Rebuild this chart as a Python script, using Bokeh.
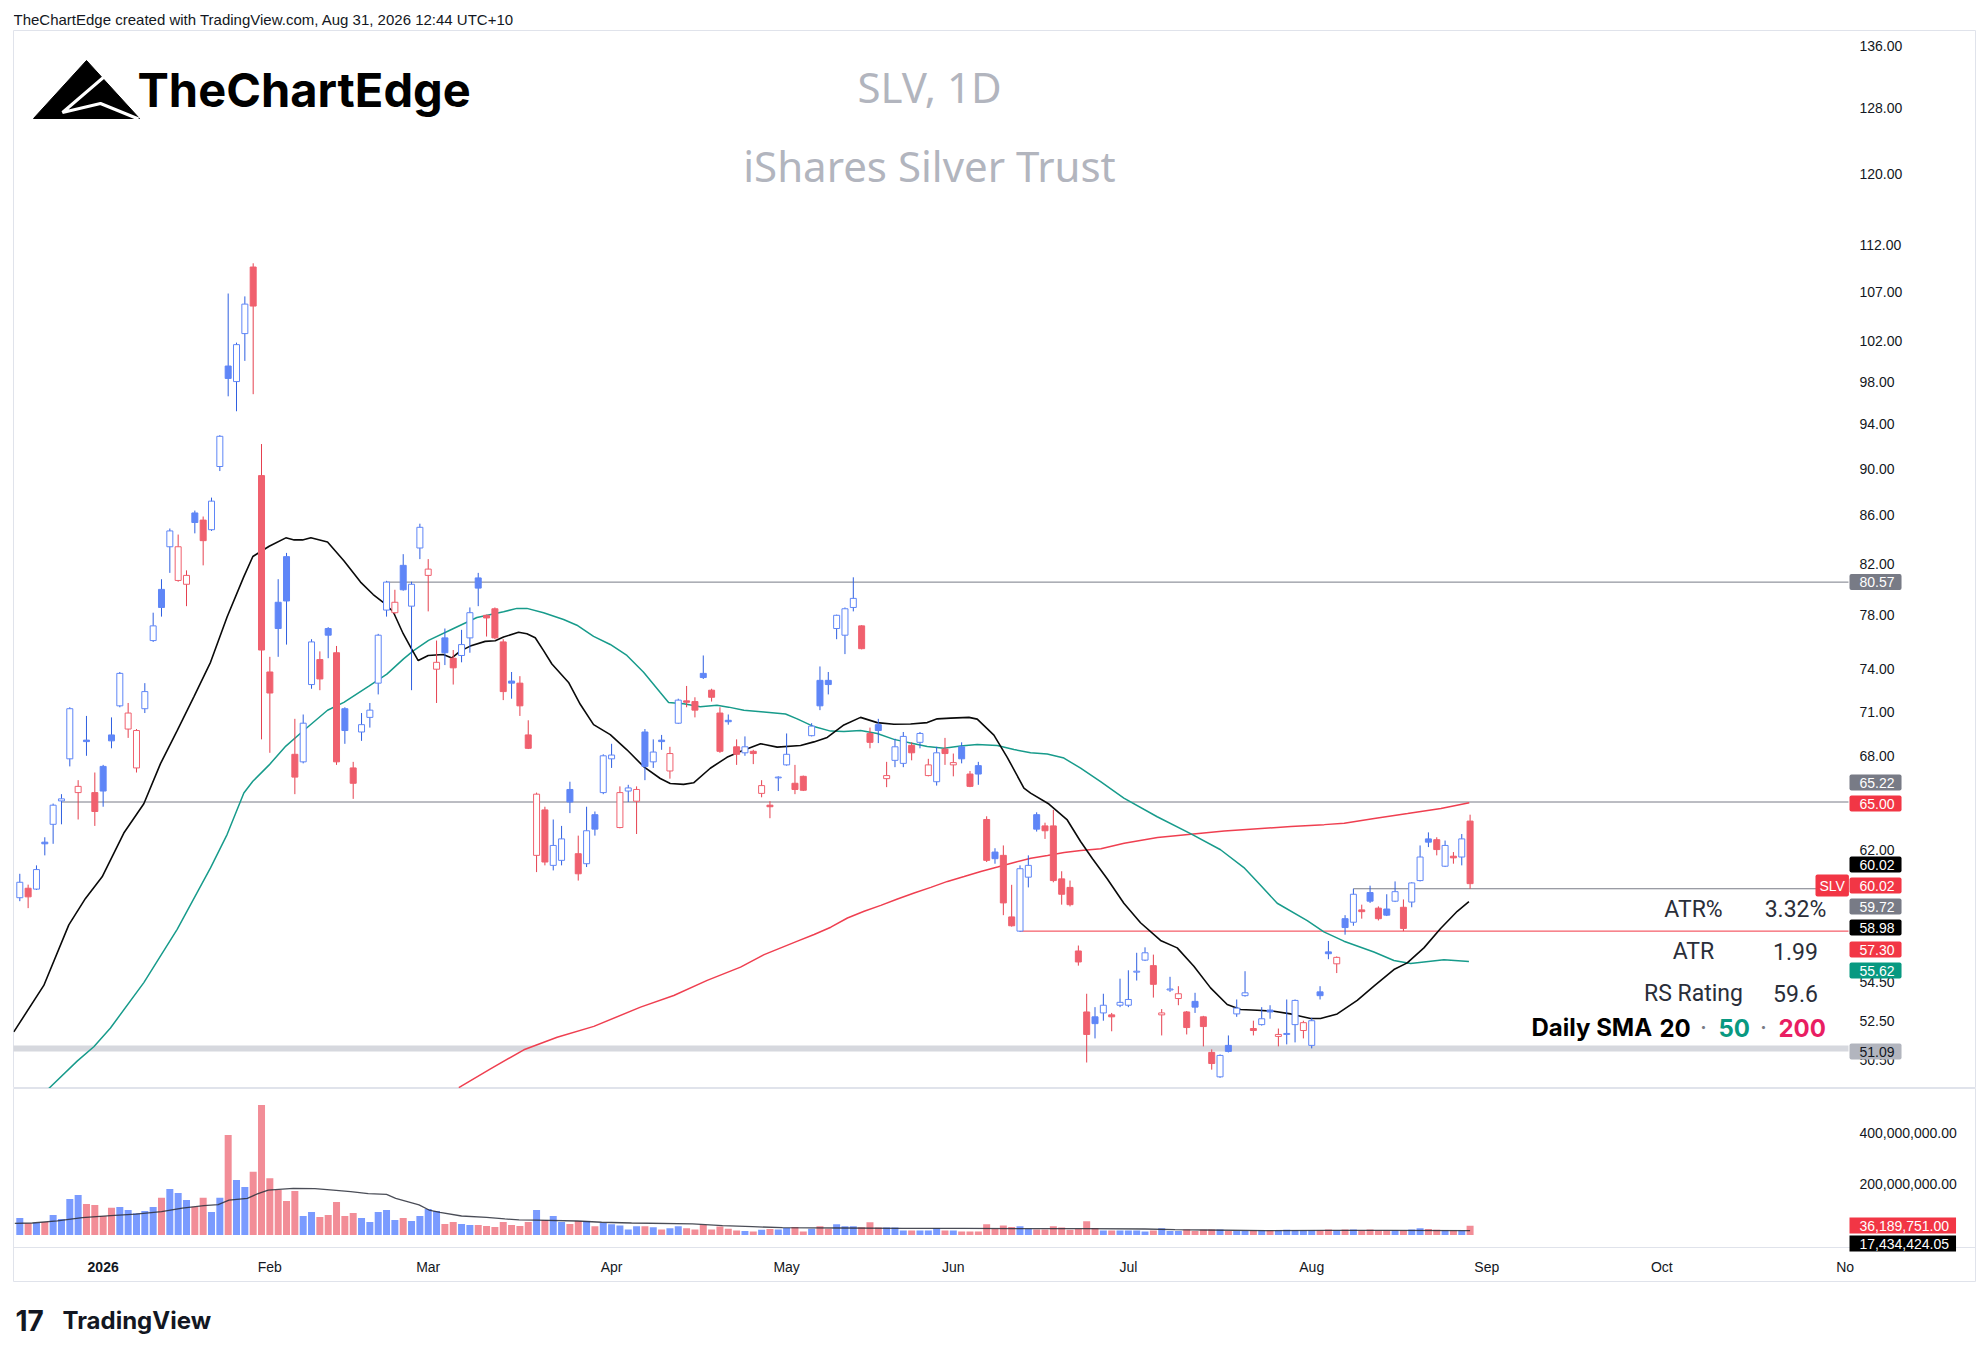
import math
from bokeh.plotting import figure
from bokeh.models import Range1d, FixedTicker, NumeralTickFormatter, Label, ColumnDataSource
from bokeh.layouts import column
from bokeh.embed import file_html
from bokeh.resources import INLINE

# ------------------------------------------------------------------ data
# daily candles, bar index 0 = 17 Dec 2025 ... 174 = 28 Aug 2026
opens = [59.2, 59.75, 59.7, 62.5, 63.6, 65.07, 67.8, 65.6, 69.05, 65.6,
         67.3, 69.4, 71.4, 69.8, 67.2, 71.2, 76.1, 80.0, 83.4, 80.7,
         80.4, 86.2, 85.6, 84.8, 90.2, 99.5, 98.0, 102.7, 109.6, 89.4,
         73.8, 79.0, 82.6, 68.1, 67.6, 72.9, 74.7, 77.0, 75.2, 71.2,
         67.2, 69.6, 70.6, 73.0, 78.4, 78.2, 81.9, 78.7, 83.3, 81.1,
         74.0, 76.3, 74.8, 75.0, 76.3, 80.9, 78.0, 78.5, 76.0, 73.15,
         73.0, 69.4, 61.7, 64.5, 61.1, 61.4, 65.8, 61.8, 61.2, 64.2,
         65.6, 67.8, 63.4, 65.7, 65.05, 69.6, 67.6, 69.05, 67.0, 70.2,
         71.75, 71.7, 73.7, 72.5, 70.9, 70.4, 68.6, 68.2, 68.3, 65.55,
         64.8, 66.55, 67.4, 66.2, 66.65, 69.35, 73.2, 73.2, 77.0, 76.5,
         78.6, 77.2, 69.5, 70.1, 66.5, 67.7, 67.5, 68.7, 68.9, 66.7,
         66.3, 68.45, 67.4, 68.6, 66.8, 67.35, 63.9, 61.9, 61.7, 58.1,
         57.3, 60.4, 64.2, 63.5, 63.5, 60.3, 59.8, 56.2, 52.95, 52.7,
         52.9, 52.8, 53.3, 53.3, 55.05, 55.7, 55.4, 52.8, 54.1, 53.65,
         52.95, 53.5, 52.7, 50.9, 49.7, 51.25, 52.85, 53.8, 52.1, 52.3,
         53.05, 51.7, 51.8, 52.3, 52.0, 51.25, 54.0, 56.15, 55.5, 58.0,
         57.8, 58.5, 59.5, 58.6, 58.55, 59.0, 58.65, 58.95, 60.2, 62.7,
         62.65, 61.05, 61.65, 61.6, 63.8]
highs = [60.6, 59.96, 61.1, 62.8, 64.9, 65.5, 71.3, 66.4, 70.7, 66.9,
         67.4, 70.6, 73.8, 71.6, 69.8, 73.0, 78.2, 80.8, 84.9, 84.4,
         81.5, 86.4, 85.9, 87.5, 93.0, 106.8, 101.8, 106.5, 110.0, 92.2,
         74.9, 80.8, 82.9, 70.5, 70.8, 76.2, 75.3, 77.1, 75.7, 71.3,
         67.6, 70.9, 71.6, 76.6, 80.67, 79.97, 82.8, 80.6, 85.3, 82.4,
         76.1, 77.0, 75.4, 76.9, 78.6, 81.3, 78.05, 78.6, 76.2, 73.8,
         73.5, 70.4, 65.6, 64.7, 63.9, 63.5, 66.3, 62.9, 64.7, 64.4,
         68.1, 68.8, 66.0, 66.1, 66.0, 69.8, 69.1, 69.4, 68.6, 71.9,
         72.8, 72.0, 75.0, 72.6, 71.3, 70.8, 69.1, 69.3, 68.4, 66.4,
         65.05, 66.65, 69.5, 67.4, 66.7, 70.2, 74.2, 73.8, 78.05, 78.6,
         80.95, 77.25, 69.9, 70.5, 67.6, 69.15, 69.6, 68.9, 69.6, 67.8,
         68.6, 69.2, 68.15, 68.9, 67.0, 67.6, 64.1, 62.13, 62.3, 59.95,
         61.1, 61.7, 64.35, 63.7, 64.5, 60.75, 60.2, 56.5, 53.9, 53.2,
         53.9, 52.9, 54.7, 55.15, 56.1, 56.4, 56.0, 53.1, 54.8, 54.3,
         53.0, 53.95, 52.75, 51.05, 50.8, 51.75, 53.6, 55.1, 52.5, 53.2,
         53.3, 52.1, 53.6, 53.6, 52.5, 52.65, 54.3, 56.75, 55.9, 58.2,
         59.72, 58.8, 59.9, 58.7, 59.4, 60.15, 59.1, 60.1, 62.3, 63.1,
         62.8, 62.6, 61.9, 63.0, 64.2]
lows = [59.0, 58.6, 59.65, 61.7, 62.4, 63.6, 67.3, 63.9, 68.0, 63.5,
        64.7, 68.5, 71.3, 69.2, 66.9, 70.9, 76.0, 77.9, 81.3, 80.6,
        78.7, 84.5, 81.9, 84.7, 89.8, 96.6, 95.2, 100.0, 96.8, 69.1,
        68.2, 74.9, 75.8, 65.5, 67.5, 72.6, 72.5, 74.8, 67.4, 68.8,
        65.2, 69.0, 69.9, 72.2, 77.9, 78.1, 79.9, 72.5, 82.4, 78.3,
        71.6, 74.3, 72.9, 74.5, 75.2, 78.7, 76.4, 76.2, 71.8, 71.9,
        70.7, 68.45, 60.7, 61.1, 60.8, 61.1, 64.3, 60.2, 61.0, 62.9,
        65.5, 67.2, 63.35, 65.0, 63.0, 66.4, 67.2, 68.4, 66.5, 70.15,
        71.3, 70.6, 73.3, 71.7, 68.2, 70.1, 67.4, 68.0, 67.45, 65.3,
        63.98, 65.7, 67.35, 65.5, 65.7, 69.3, 71.1, 72.2, 76.2, 75.1,
        78.3, 75.45, 68.5, 68.85, 65.95, 67.25, 67.25, 67.7, 68.5, 66.65,
        66.05, 67.4, 66.65, 67.5, 65.95, 66.1, 61.3, 61.2, 58.2, 57.55,
        57.25, 59.8, 63.15, 62.7, 60.1, 58.8, 58.7, 55.4, 50.4, 51.6,
        52.5, 51.96, 53.2, 53.2, 54.6, 55.65, 53.7, 51.75, 54.0, 53.3,
        51.8, 52.9, 51.2, 50.05, 49.65, 50.9, 52.7, 53.75, 51.75, 52.25,
        52.6, 51.2, 51.3, 51.4, 51.6, 51.1, 53.6, 55.75, 55.0, 57.1,
        57.6, 58.0, 58.9, 57.9, 58.15, 58.95, 57.3, 58.65, 60.15, 62.2,
        61.7, 61.0, 61.2, 61.1, 59.72]
closes = [60.1, 59.25, 60.85, 62.4, 64.8, 65.2, 71.2, 66.0, 68.95, 64.4,
          65.7, 69.0, 73.7, 70.9, 69.7, 72.4, 77.2, 78.6, 84.7, 83.4,
          81.1, 85.4, 83.9, 87.2, 92.9, 98.3, 101.6, 105.7, 105.5, 75.4,
          72.3, 77.0, 79.1, 66.6, 70.2, 76.0, 73.3, 76.5, 67.6, 69.7,
          66.2, 70.1, 71.1, 76.5, 80.57, 79.0, 79.97, 80.4, 85.0, 81.6,
          74.5, 75.2, 74.1, 75.8, 78.2, 80.1, 77.8, 76.3, 72.4, 73.0,
          71.4, 68.5, 65.5, 61.3, 62.3, 62.7, 65.0, 60.6, 63.2, 63.3,
          68.0, 68.05, 65.6, 65.9, 65.8, 67.3, 68.25, 68.95, 68.15, 71.8,
          71.65, 71.1, 73.4, 72.0, 68.3, 70.3, 68.1, 68.6, 68.15, 66.05,
          64.7, 66.6, 68.1, 65.8, 65.75, 70.0, 71.4, 72.9, 78.0, 78.5,
          79.3, 75.5, 68.9, 69.7, 66.7, 68.6, 69.3, 68.2, 69.5, 67.4,
          68.2, 68.15, 67.55, 67.8, 66.0, 66.8, 61.4, 61.5, 58.9, 57.6,
          60.9, 61.1, 63.3, 63.2, 60.2, 59.4, 58.8, 55.6, 51.8, 52.35,
          53.3, 52.7, 53.45, 53.6, 55.1, 56.1, 54.4, 52.9, 54.15, 53.9,
          52.15, 53.2, 52.2, 50.35, 50.75, 50.95, 53.15, 53.95, 52.0, 52.6,
          52.95, 51.8, 51.85, 53.55, 52.4, 52.5, 53.8, 56.05, 55.85, 57.5,
          59.4, 58.4, 59.0, 58.0, 58.2, 59.55, 57.45, 60.06, 61.6, 62.5,
          62.05, 62.3, 61.55, 62.7, 60.02]
volume_m = [66.7, 45.7, 48.4, 51.0, 78.4, 62.7, 141, 157, 121.6, 117.6,
            74.5, 107, 110, 98, 85, 94, 110, 146, 180, 165,
            137, 111, 146, 90, 146, 392, 216, 188, 248, 510,
            223, 176, 133, 173, 74.5, 90, 70.6, 78.4, 129, 74.5,
            86, 66.7, 51, 90, 98, 58.8, 66.7, 54.9, 74.5, 102,
            94, 43, 51, 43, 39, 39, 35, 31, 51, 39,
            35, 51, 98, 59, 74.5, 51, 43, 55, 55, 34,
            47, 42, 37, 22, 34, 34, 30, 22, 26, 34,
            26, 22, 39, 22, 33, 25, 18, 16, 14, 21,
            24, 22, 27, 31, 14, 25, 34, 25, 42, 34,
            34, 30, 50, 29, 29, 29, 18, 18, 18, 18,
            26, 18, 18, 14, 14, 14, 42, 25, 37, 31,
            34, 25, 22, 22, 34, 29, 21, 24, 54, 27,
            18, 18, 18, 18, 18, 14, 18, 26, 16, 16,
            22, 16, 21, 22, 22, 16, 16, 16, 18, 18,
            18, 18, 21, 18, 18, 18, 18, 22, 18, 22,
            22, 18, 22, 18, 18, 18, 18, 22, 26, 24,
            21, 18, 18, 18, 36.19]

# moving averages (bar index, value)
sma20_x = [-0.72, 2.88, 5.88, 7.88, 9.88, 12.48, 14.88, 16.88, 18.88, 20.88, 22.88, 24.88, 26.88, 27.96,
           29.92, 31.92, 32.92, 33.92, 34.92, 36.92, 38.88, 40.88, 42.4, 43.6, 44.8, 46.0, 47.0, 47.8,
           49.0, 50.8, 51.84, 52.84, 54.04, 55.84, 57.04, 58.04, 59.84, 60.84, 61.84, 62.84, 63.84,
           65.84, 67.24, 68.84, 70.84, 72.84, 74.84, 76.84, 78.04, 79.64, 80.84, 82.84, 84.84, 86.44,
           88.87, 90.87, 93.67, 95.27, 96.87, 98.87, 100.87, 102.87, 104.87, 106.87, 108.87, 110.07,
           111.67, 113.87, 114.87, 116.87, 118.47, 120.47, 121.27, 123.47, 125.67, 127.27, 128.7,
           130.46, 132.46, 134.46, 136.86, 138.86, 140.86, 142.86, 144.86, 146.46, 148.46, 150.46,
           152.46, 153.66, 154.86, 156.06, 158.06, 160.46, 162.46, 164.86, 166.46, 168.46, 170.46,
           172.46, 173.86]
sma20_y = [51.93, 54.34, 57.65, 59.16, 60.42, 63.06, 64.89, 67.48, 69.69, 72.03, 74.5, 77.89, 81.0, 82.61,
           83.44, 84.13, 83.96, 83.96, 84.13, 83.79, 82.27, 80.57, 79.6, 79.0, 78.27, 76.61, 75.49, 74.63,
           75.0, 75.07, 74.82, 75.32, 75.69, 76.04, 76.09, 76.36, 76.72, 76.61, 76.31, 75.36, 74.38,
           73.05, 71.51, 70.1, 69.42, 68.4, 67.29, 66.51, 66.19, 66.13, 66.23, 67.18, 67.9, 68.29,
           68.81, 68.58, 68.69, 68.93, 69.23, 70.08, 70.6, 70.24, 70.13, 70.15, 70.24, 70.5,
           70.55, 70.6, 70.48, 69.39, 67.9, 65.89, 65.57, 64.87, 63.87, 62.54, 61.5,
           60.31, 58.88, 57.77, 56.78, 56.37, 55.37, 54.21, 53.34, 53.08, 53.04, 52.99,
           52.85, 52.73, 52.61, 52.61, 52.85, 53.55, 54.3, 55.19, 55.55, 56.37, 57.45,
           58.42, 58.98]
sma50_x = [3.48, 6.88, 8.88, 10.88, 14.88, 18.88, 22.88, 24.88, 26.88, 27.96, 29.92, 31.92, 33.92, 36.92,
           38.88, 41.88, 44.04, 46.04, 47.24, 49.04, 52.04, 54.84, 58.04, 59.64, 60.84, 62.84, 65.24,
           66.84, 68.84, 70.84, 72.84, 74.84, 76.84, 77.84, 79.64, 81.64, 83.64, 85.04, 86.87, 89.27,
           91.87, 93.27, 95.27, 97.27, 98.87, 100.87, 102.87, 104.87, 106.87, 108.87, 110.87, 112.87,
           114.87, 117.27, 119.27, 121.27, 123.27, 125.27, 127.27, 129.67, 132.46, 136.46, 140.46,
           144.06, 146.86, 148.86, 150.86, 154.46, 156.46, 158.86, 162.46, 164.86, 166.86, 168.46,
           170.86, 173.86]
sma50_y = [49.14, 50.47, 51.18, 52.13, 54.49, 57.4, 60.95, 62.98, 65.57, 66.33, 67.4, 68.65, 69.63, 71.09,
           71.64, 72.78, 73.65, 74.75, 75.36, 76.11, 77.0, 77.83, 78.27, 78.53, 78.53, 78.19, 77.68,
           77.25, 76.41, 75.81, 75.0, 73.78, 72.33, 71.64, 71.55, 71.34, 71.44, 71.31, 71.09, 70.97,
           70.83, 70.5, 69.97, 69.66, 69.63, 69.7, 69.5, 69.1, 68.86, 68.62, 68.51, 68.65,
           68.76, 68.69, 68.42, 68.21, 68.12, 67.85, 67.18, 66.3, 65.25, 64.07, 63.02,
           62.04, 60.97, 59.92, 58.88, 57.89, 57.26, 56.74, 56.14, 55.68, 55.52, 55.6,
           55.72, 55.62]
sma200_x = [52.67, 56.47, 60.47, 64.47, 68.87, 74.47, 78.46, 82.47, 86.47, 89.3, 91.3, 93.3, 95.3, 97.3,
            99.3, 101.3, 103.3, 105.3, 107.3, 109.3, 111.3, 113.3, 115.3, 117.3, 119.3, 121.3, 123.3,
            125.3, 127.3, 129.7, 132.5, 136.5, 140.5, 144.5, 148.5, 152.5, 156.5, 158.9, 162.5, 166.5,
            170.5, 173.9]
sma200_y = [49.18, 50.09, 51.03, 51.66, 52.21, 53.2, 53.81, 54.61, 55.32, 56.0, 56.37, 56.74, 57.11, 57.52,
            58.04, 58.42, 58.76, 59.13, 59.47, 59.8, 60.15, 60.44, 60.74, 61.0, 61.27, 61.53, 61.69,
            61.87, 61.99, 62.1, 62.43, 62.79, 62.98, 63.18, 63.32, 63.46, 63.58, 63.66, 63.96, 64.27,
            64.59, 64.95]
volma_x = [-0.6, 1.5, 4.5, 7.5, 10.9, 13.9, 17, 19.5, 22.1, 23.8, 25.1, 27.3, 28.5, 29.8, 32.8, 35.4,
           37.6, 39.7, 41.8, 44, 45.1, 47.9, 49.1, 50.4, 53, 56, 58.2, 59.9, 62, 66.9, 69.8, 73.4, 80.7,
           84.3, 87.9, 91.5, 98.8, 106, 113.3, 120.5, 127.8, 135, 138.6, 142.3, 149.5, 156.8, 164, 174]
volma_m = [45.7, 47, 55, 68, 76, 82, 91.5, 105, 115, 119, 137, 144, 161, 176, 183, 182,
           176, 170, 162, 159, 144, 118, 98, 89, 74.5, 69, 63, 59, 58, 55, 50, 47, 44,
           36.6, 32.7, 28.8, 27.4, 26, 26, 24.8, 24.8, 23.5, 21, 19.6, 17, 18.3, 18.3, 17.43]

# horizontal levels drawn on the chart
level_values = [51.09, 80.57, 65.00, 59.72, 57.30]
level_start = [-1, 44, 5, 160, 120]
level_colors = ["#d6d8de", "#787b86", "#787b86", "#787b86", "#f23645"]
level_widths = [6, 1, 1, 1, 1]

# axis ticks
price_ticks = [136, 128, 120, 112, 107, 102, 98, 94, 90, 86, 82, 78, 74, 71, 68, 62, 54.5, 52.5, 50.5]
vol_ticks = [200e6, 400e6]
month_idx = [30, 49, 71, 92, 112, 133, 155, 176, 197, 219]
month_lbl = ["Feb", "Mar", "Apr", "May", "Jun", "Jul", "Aug", "Sep", "Oct", "No"]
year_idx = 10
year_lbl = "2026"

# price-scale tags: text, page y of the tag, background
tag_text = ["80.57", "65.22", "65.00", "60.02", "60.02", "59.72", "58.98", "57.30", "55.62", "51.09"]
tag_page_y = [581.6, 782, 803, 864, 885, 906, 927, 949, 970, 1051]
tag_bg = ["#787b86", "#787b86", "#f23645", "#000000", "#f23645", "#787b86", "#000000", "#f23645", "#089981", "#b2b5be"]
tag_fg = ["white"] * 9 + ["#131722"]

# ------------------------------------------------------------------ page geometry helpers
X0, DX = 19.3, 8.335           # page x of bar 0, px per bar
PAGE_W = 1980


def ix(px):
    return (px - X0) / DX


def price_at(py):
    return 82.0 * math.exp((563.6 - py) / 1024.0)


def vol_at(py):
    return (1234.5 - py) * 3.922e6


FONT = "Liberation Sans"
xr = Range1d(ix(13), ix(1975))
SCALE_X = ix(1848)
TAG_X = ix(1849)
TAG_PAD = (10, 7, 3, 3)


def blank_fig(h):
    f = figure(width=PAGE_W, height=h, x_range=Range1d(13, 1975), y_range=Range1d(0, h),
               x_axis_location=None, y_axis_location=None, title=None, toolbar_location=None,
               output_backend="svg", min_border_left=13, min_border_right=5,
               min_border_top=0, min_border_bottom=0)
    f.outline_line_color = None
    f.grid.grid_line_color = None
    f.background_fill_color = "white"
    f.border_fill_color = "white"
    return f


def style_axis(a, standoff):
    a.axis_line_color = None
    a.major_tick_line_color = None
    a.minor_tick_line_color = None
    a.major_tick_out = 0
    a.minor_tick_out = 0
    a.major_tick_in = 0
    a.minor_tick_in = 0
    a.major_label_standoff = standoff
    a.major_label_text_font = FONT
    a.major_label_text_font_size = "14px"
    a.major_label_text_color = "#131722"


# ------------------------------------------------------------------ header strip
head = blank_fig(30)
head.add_layout(Label(x=13, y=30 - 19, text="TheChartEdge created with TradingView.com, Aug 31, 2026 12:44 UTC+10",
                      text_baseline="middle", text_font=FONT, text_font_size="15px", text_color="#131722"))

# ------------------------------------------------------------------ price pane
p = figure(width=PAGE_W, height=1058, x_range=xr,
           y_range=Range1d(price_at(1088), price_at(30)), y_axis_type="log",
           x_axis_location=None, y_axis_location="right", title=None,
           toolbar_location=None, output_backend="svg",
           min_border_left=13, min_border_right=5, min_border_top=0, min_border_bottom=0)
p.background_fill_color = "white"
p.border_fill_color = "white"
p.outline_line_color = "#e0e3eb"
p.xgrid.grid_line_color = None
p.ygrid.grid_line_color = None
ax = p.yaxis[0]
ax.fixed_location = SCALE_X
ax.ticker = FixedTicker(ticks=price_ticks)
ax.formatter = NumeralTickFormatter(format="0.00")
style_axis(ax, 11)

# watermark + branding
for txt, py in (("SLV, 1D", 86), ("iShares Silver Trust", 165)):
    p.add_layout(Label(x=ix(929), y=price_at(py), text=txt, text_align="center", text_baseline="middle",
                       text_font="Noto Sans", text_font_size="42px", text_color="#b2b5be"))
p.patch([ix(33), ix(86), ix(139)], [price_at(118), price_at(60), price_at(118)], color="black")
p.line([ix(104), ix(62), ix(100), ix(138)], [price_at(76), price_at(112), price_at(103), price_at(118.5)],
       color="white", line_width=3)
p.add_layout(Label(x=ix(137), y=price_at(89), text="TheChartEdge", text_baseline="middle",
                   text_font="Inter", text_font_style="bold", text_font_size="47px", text_color="black"))

# horizontal levels
p.segment(x0=level_start, y0=level_values, x1=[SCALE_X] * len(level_values), y1=level_values,
          line_color=level_colors, line_width=level_widths)

# moving averages
p.line(sma200_x, sma200_y, line_color="#ef3f50", line_width=1.5)
p.line(sma50_x, sma50_y, line_color="#179b8b", line_width=1.5)
p.line(sma20_x, sma20_y, line_color="#0a0a0a", line_width=1.6)

# candles
n = len(closes)
idx = list(range(n))
UP_BODY, DN_BODY = "#5f86f7", "#f0606e"
UP_WICK, DN_WICK = "#2f5fe0", "#e5404f"
fill, line, wick = [], [], []
for i in range(n):
    up = i == 0 or closes[i] >= closes[i - 1]
    col = UP_BODY if up else DN_BODY
    line.append(col)
    wick.append(UP_WICK if up else DN_WICK)
    fill.append("white" if closes[i] > opens[i] else col)
src = ColumnDataSource(dict(x=idx, o=opens, h=highs, l=lows, c=closes,
                            top=[max(a, b) for a, b in zip(opens, closes)],
                            bot=[min(a, b) for a, b in zip(opens, closes)],
                            fill=fill, line=line, wick=wick))
p.segment(x0="x", y0="l", x1="x", y1="h", line_color="wick", line_width=1, source=src)
p.vbar(x="x", width=0.72, top="top", bottom="bot", fill_color="fill", line_color="line",
       line_width=1, source=src)

# price-scale tags (box starts at the scale edge)
for t, ty, bg, fg in zip(tag_text, tag_page_y, tag_bg, tag_fg):
    p.add_layout(Label(x=TAG_X, y=price_at(ty), text=t, text_baseline="middle", text_font=FONT,
                       text_font_size="14px", text_color=fg, background_fill_color=bg,
                       padding=TAG_PAD, border_radius=2))
p.add_layout(Label(x=ix(1815), y=price_at(885), text="SLV", text_baseline="middle", text_font=FONT,
                   text_font_size="14px", text_color="white", background_fill_color="#f23645",
                   padding=(4, 4, 3, 3), border_radius=2))

# info table
table_rows = [("ATR%", "3.32%", 909), ("ATR", "1.99", 951), ("RS Rating", "59.6", 993)]
for k, v_, ty in table_rows:
    p.add_layout(Label(x=ix(1693), y=price_at(ty), text=k, text_align="center", text_baseline="middle",
                       text_font="Roboto", text_font_size="23px", text_color="#2a2e39"))
    p.add_layout(Label(x=ix(1795), y=price_at(ty), text=v_, text_align="center", text_baseline="middle",
                       text_font="Roboto", text_font_size="23px", text_color="#2a2e39"))
sma_row = [("Daily SMA", 1531, "black", "left", "bold"), ("20", 1659, "black", "left", "bold"),
           ("·", 1703, "#787b86", "center", "normal"), ("50", 1718, "#089981", "left", "bold"),
           ("·", 1763, "#787b86", "center", "normal"), ("200", 1778, "#e91e63", "left", "bold")]
for t, tx, col, al, st in sma_row:
    p.add_layout(Label(x=ix(tx), y=price_at(1027), text=t, text_align=al, text_baseline="middle",
                       text_font="Inter", text_font_style=st, text_font_size="24px", text_color=col))

# ------------------------------------------------------------------ volume pane + time scale
v = figure(width=PAGE_W, height=194, x_range=xr, y_range=Range1d(vol_at(1282), vol_at(1088)),
           y_axis_location="right", title=None, toolbar_location=None, output_backend="svg",
           min_border_left=13, min_border_right=5, min_border_top=0, min_border_bottom=0)
v.background_fill_color = "white"
v.border_fill_color = "white"
v.outline_line_color = "#e0e3eb"
v.xgrid.grid_line_color = None
v.ygrid.grid_line_color = None
vcol = ["#7a9bff" if c >= o else "#f28d97" for o, c in zip(opens, closes)]
v.vbar(x=idx, width=0.84, top=[m * 1e6 for m in volume_m], bottom=0, fill_color=vcol, line_color=None)
v.line(volma_x, [m * 1e6 for m in volma_m], line_color="#2a2e39", line_width=1.3, line_alpha=0.85)

vy = v.yaxis[0]
vy.fixed_location = SCALE_X
vy.ticker = FixedTicker(ticks=vol_ticks)
vy.formatter = NumeralTickFormatter(format="0,0.00")
style_axis(vy, 11)
vx = v.xaxis[0]
vx.fixed_location = vol_at(1247)
vx.ticker = FixedTicker(ticks=month_idx)
vx.major_label_overrides = {k: s for k, s in zip(month_idx, month_lbl)}
style_axis(vx, 11)
vx.axis_line_color = "#e0e3eb"
v.add_layout(Label(x=year_idx, y=vol_at(1266), text=year_lbl, text_align="center", text_baseline="middle",
                   text_font=FONT, text_font_style="bold", text_font_size="14px", text_color="#131722"))

for t, ty, bg in (("36,189,751.00", 1225, "#f23645"), ("17,434,424.05", 1243, "#000000")):
    v.add_layout(Label(x=TAG_X, y=vol_at(ty), text=t, text_baseline="middle", text_font=FONT,
                       text_font_size="14px", text_color="white", background_fill_color=bg,
                       padding=TAG_PAD))

# ------------------------------------------------------------------ footer strip
foot = blank_fig(68)
foot.add_layout(Label(x=15, y=1350 - 1320, text="17", text_baseline="middle", text_font="Inter",
                      text_font_style="bold", text_font_size="28px", text_color="#131722"))
foot.add_layout(Label(x=62, y=1350 - 1320, text="TradingView", text_baseline="middle", text_font="Inter",
                      text_font_style="bold", text_font_size="24px", text_color="#131722"))

layout = column(head, p, v, foot, spacing=0)
open("out.html", "w").write(file_html(layout, INLINE))
